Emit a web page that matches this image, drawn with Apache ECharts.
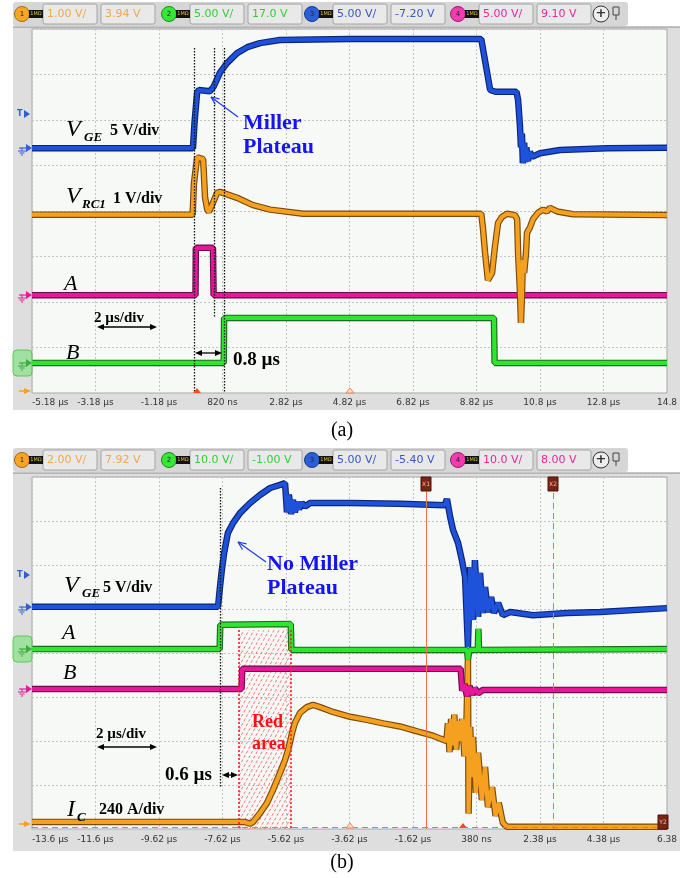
<!DOCTYPE html>
<html>
<head>
<meta charset="utf-8">
<script src="https://cdn.jsdelivr.net/npm/echarts@6/dist/echarts.min.js"></script>
<style>
html, body { margin: 0; padding: 0; background: #fff; }
#chart { width: 684px; height: 878px; }
</style>
</head>
<body>
<div id="chart"></div>
<script>
// ---- tick labels, 2 µs/div, 10 divisions ----
const ticksA = ['-5.18 µs', '-3.18 µs', '-1.18 µs', '820 ns', '2.82 µs', '4.82 µs', '6.82 µs', '8.82 µs', '10.8 µs', '12.8 µs', '14.8']
const ticksB = ['-13.6 µs', '-11.6 µs', '-9.62 µs', '-7.62 µs', '-5.62 µs', '-3.62 µs', '-1.62 µs', '380 ns', '2.38 µs', '4.38 µs', '6.38']

// ---- channel readouts ----
const headA = ['1.00 V/', '3.94 V', '5.00 V/', '17.0 V', '5.00 V/', '-7.20 V', '5.00 V/', '9.10 V']
const headB = ['2.00 V/', '7.92 V', '10.0 V/', '-1.00 V', '5.00 V/', '-5.40 V', '10.0 V/', '8.00 V']

// ---- traces (a): [µs from left edge, divisions from bottom] ----
const vgeA = [[0, 5.38], [5.07, 5.38], [5.12, 5.95], [5.2, 6.6], [5.26, 6.66], [5.6, 6.63], [5.72, 6.73], [5.92, 7.04],
  [6.14, 7.25], [6.46, 7.47], [6.78, 7.6], [7.18, 7.69], [7.81, 7.76], [10, 7.78], [14.15, 7.78], [14.43, 6.66],
  [14.6, 6.62], [15.26, 6.62], [15.31, 6.44], [15.37, 5.85], [15.4, 5.4], [15.43, 5.7], [15.46, 5.05], [15.5, 5.5],
  [15.53, 5.08], [15.57, 5.4], [15.62, 5.1], [15.68, 5.3], [15.75, 5.19], [16.0, 5.27], [16.63, 5.34], [18.1, 5.38], [20, 5.39]]
const vrcA = [[0, 3.92], [5.06, 3.92], [5.1, 4.6], [5.2, 5.18], [5.39, 5.14], [5.45, 4.3], [5.52, 4.03], [5.57, 3.98],
  [5.65, 4.1], [5.83, 4.4], [5.92, 4.42], [6.46, 4.29], [6.96, 4.13], [7.5, 4.03], [8.54, 3.94], [14.15, 3.94],
  [14.2, 3.65], [14.27, 3.08], [14.36, 2.48], [14.49, 2.64], [14.58, 3.21], [14.68, 3.74], [14.8, 3.87], [14.96, 3.94],
  [15.21, 3.91], [15.28, 3.82], [15.31, 3.08], [15.37, 2.2], [15.4, 1.54], [15.43, 2.11], [15.46, 2.92], [15.5, 2.64],
  [15.56, 3.08], [15.59, 3.52], [15.69, 3.65], [15.78, 3.82], [15.94, 3.96], [16.09, 4.03], [16.22, 3.99], [16.31, 4.07],
  [16.54, 3.99], [17.04, 3.93], [20, 3.91]]
const sigA_a = [[0, 2.15], [5.15, 2.15], [5.16, 3.19], [5.7, 3.19], [5.72, 2.15], [20, 2.15]]
const sigB_a = [[0, 0.66], [6.04, 0.66], [6.05, 1.65], [14.55, 1.65], [14.57, 0.66], [20, 0.66]]

// ---- traces (b) ----
const vgeB = [[0, 5.05], [5.86, 5.05], [5.92, 5.5], [5.98, 5.89], [6.05, 6.27], [6.17, 6.73], [6.33, 6.95], [6.55, 7.18],
  [6.87, 7.41], [7.18, 7.59], [7.5, 7.75], [7.81, 7.82], [7.97, 7.86], [8.03, 7.2], [8.09, 7.6], [8.16, 7.16],
  [8.22, 7.48], [8.28, 7.2], [8.35, 7.43], [8.41, 7.27], [8.5, 7.41], [8.6, 7.33], [8.76, 7.41], [10.02, 7.41],
  [11.59, 7.39], [13.0, 7.36], [13.07, 7.5], [13.17, 7.09], [13.26, 6.8], [13.42, 6.5], [13.54, 6.11], [13.64, 5.73],
  [13.73, 4.14], [13.8, 5.95], [13.89, 4.75], [13.95, 6.11], [14.05, 4.82], [14.11, 5.82], [14.2, 4.91], [14.27, 5.5],
  [14.36, 4.93], [14.46, 5.27], [14.55, 4.91], [14.68, 5.14], [14.83, 4.86], [15.06, 4.93], [15.78, 4.86],
  [16.85, 4.91], [17.89, 4.93], [20, 5.02]]
const sigA_b = [[0, 4.09], [5.91, 4.09], [5.93, 4.64], [8.15, 4.66], [8.17, 4.07], [13.7, 4.07], [13.73, 3.85],
  [13.78, 4.07], [14.04, 4.07], [14.06, 4.55], [14.08, 4.07], [20, 4.09]]
const sigB_b = [[0, 3.18], [6.6, 3.18], [6.62, 3.64], [13.5, 3.64], [13.55, 3.14], [13.62, 3.3], [13.7, 3.02],
  [13.78, 3.25], [13.86, 3.05], [13.95, 3.2], [14.05, 3.08], [14.2, 3.16], [20, 3.16]]
const icB = [[0, 0.16], [6.7, 0.16], [6.87, 0.12], [6.96, 0.16], [7.18, 0.36], [7.4, 0.59], [7.59, 0.89], [7.81, 1.27],
  [7.97, 1.57], [8.09, 1.86], [8.19, 2.18], [8.28, 2.41], [8.44, 2.64], [8.66, 2.77], [8.85, 2.82], [9.07, 2.77],
  [9.48, 2.66], [10.02, 2.55], [10.55, 2.48], [11.06, 2.4], [11.59, 2.33], [12.13, 2.22], [12.63, 2.12], [13.05, 2.0],
  [13.1, 2.4], [13.15, 1.75], [13.2, 2.5], [13.26, 1.9], [13.3, 2.6], [13.36, 1.8], [13.42, 2.45], [13.48, 2.0],
  [13.55, 2.5], [13.62, 1.65], [13.68, 2.3], [13.73, 3.84], [13.75, 0.35], [13.8, 2.32], [13.86, 1.18], [13.89, 2.09],
  [13.98, 0.82], [14.05, 1.73], [14.17, 0.66], [14.27, 1.41], [14.36, 0.5], [14.49, 0.95], [14.6, 0.3], [14.7, 0.6],
  [14.83, 0.14], [14.96, 0.05], [20, 0.05]]

// ---- marker positions (µs / div) ----
const dottedA = [[5.10, 0], [5.73, 1.67], [6.05, 0]]   // [time, lower end]
const dottedTopA = 7.58
const dottedB = [5.92, 0.93, 7.75]
const redArea = [6.52, 8.16, 4.52]                       // [from, to, top]
const cursorsB = [12.41, 16.41, 0.05]

const SERIF = '"Liberation Serif", "Times New Roman", serif'
const SANS = '"DejaVu Sans", sans-serif'
const C = {
  blue: '#1f52da', blueEdge: '#0b2476',
  orange: '#f5a11f', orangeEdge: '#7a4a0e',
  pink: '#e6179a', pinkEdge: '#6a0d44',
  green: '#2fe52f', greenEdge: '#1c6e1c'
}

// ---- graphic helpers ----
const G = []
function rect(x, y, w, h, fill, stroke, z, r) {
  G.push({ type: 'rect', z: z ?? -10, silent: true, shape: { x, y, width: w, height: h, r: r || 0 },
    style: { fill, stroke: stroke || null, lineWidth: 1 } })
}
function text(x, y, s, font, fill, align) {
  G.push({ type: 'text', z: 100, silent: true, x, y,
    style: { text: s, font, fill: fill || '#000', align: align || 'left', verticalAlign: 'middle' } })
}
function line(x1, y1, x2, y2, stroke, w, dash, z) {
  G.push({ type: 'line', z: z ?? 100, silent: true, shape: { x1, y1, x2, y2 },
    style: { stroke, lineWidth: w || 1, lineDash: dash || null } })
}
function poly(points, fill, z, stroke) {
  G.push({ type: 'polygon', z: z ?? 100, silent: true, shape: { points },
    style: { fill, stroke: stroke || null, lineWidth: 1 } })
}
function circle(cx, cy, r, fill, stroke, z) {
  G.push({ type: 'circle', z: z ?? 50, silent: true, shape: { cx, cy, r }, style: { fill, stroke, lineWidth: 1 } })
}
function dblArrow(x1, x2, y) {
  line(x1 + 3, y, x2 - 3, y, '#000', 1.3)
  poly([[x1, y], [x1 + 7, y - 3], [x1 + 7, y + 3]], '#000')
  poly([[x2, y], [x2 - 7, y - 3], [x2 - 7, y + 3]], '#000')
}
function openArrow(x1, y1, x2, y2, color) {
  const a = Math.atan2(y2 - y1, x2 - x1), L = 8, W = 3.5
  line(x1, y1, x2, y2, color, 1.2)
  line(x2, y2, x2 - L * Math.cos(a) + W * Math.sin(a), y2 - L * Math.sin(a) - W * Math.cos(a), color, 1.2)
  line(x2, y2, x2 - L * Math.cos(a) - W * Math.sin(a), y2 - L * Math.sin(a) + W * Math.cos(a), color, 1.2)
}
function gnd(y, color) {
  poly([[26, y - 4], [32, y], [26, y + 4]], color, 50)
  line(19, y, 26, y, color, 1.2, null, 50)
  line(22, y, 22, y + 3, color, 1, null, 50)
  line(18, y + 3, 26, y + 3, color, 1, null, 50)
  line(19.5, y + 5, 24.5, y + 5, color, 1, null, 50)
  line(21, y + 7, 23, y + 7, color, 1, null, 50)
}
function trig(y) {
  text(17, y, 'T', 'bold 8px ' + SANS, '#2f5fd0')
  poly([[24, y - 4], [30, y], [24, y + 4]], '#2f5fd0', 50)
}
function header(y0, vals) {
  rect(13, y0 + 2, 615, 24, '#d6d6d6', null, -10, 3)
  line(13, y0 + 27, 680, y0 + 27, '#8a8a8a', 1, null, -9)
  const ch = [
    { cx: 22, fill: '#f5a623', st: '#a86a10', tc: '#f0a848' },
    { cx: 169, fill: '#35e835', st: '#1a8a1a', tc: '#30cf30' },
    { cx: 312, fill: '#2a5fd8', st: '#143a90', tc: '#3858c0' },
    { cx: 458, fill: '#f03cb0', st: '#9a1a70', tc: '#e0289c' }
  ]
  ch.forEach((c, i) => {
    circle(c.cx, y0 + 14, 7.5, c.fill, c.st, 50)
    text(c.cx, y0 + 14, String(i + 1), '7px ' + SANS, '#222', 'center')
    rect(c.cx + 7, y0 + 10, 14, 8, '#111', null, 51)
    text(c.cx + 14, y0 + 14, '1MΩ', '5px ' + SANS, '#e0c840', 'center')
    rect(c.cx + 21, y0 + 4, 54, 20, '#e9e9e9', '#a4a4a4', 50, 2)
    text(c.cx + 25, y0 + 14, vals[2 * i], '11px ' + SANS, c.tc)
    rect(c.cx + 79, y0 + 4, 54, 20, '#e9e9e9', '#a4a4a4', 50, 2)
    text(c.cx + 83, y0 + 14, vals[2 * i + 1], '11px ' + SANS, c.tc)
  })
  circle(601, y0 + 14, 8, '#eeeeee', '#333', 50)
  text(601, y0 + 14, '+', 'bold 13px ' + SANS, '#333', 'center')
  rect(613, y0 + 7, 6, 8, null, '#444', 51)
  line(616, y0 + 15, 616, y0 + 20, '#444', 1, null, 51)
}
function frame(yTop, yPlot, yBot, yFrameBot) {
  rect(13, yTop, 667, yFrameBot - yTop, '#dedede', null, -12)
  rect(32, yPlot, 635, yBot - yPlot, '#f7f9f6', '#a9a9a9', -11)
}

// ---- panel (a) decorations ----
header(0, headA)
frame(27, 29, 393, 410)
trig(114); gnd(148, '#2f5fd0'); gnd(295, '#e6179a')
rect(13, 350, 19, 26, 'rgba(110,225,110,0.55)', '#5ac85a', 40, 4); gnd(363, '#3cae3c')
poly([[24, 388], [31, 391], [24, 394]], '#f5a11f', 50); line(19, 391, 25, 391, '#f5a11f', 1.5, null, 50)
poly([[197, 388], [201, 393], [193, 393]], '#ff4a1a', 60)
poly([[350, 388], [354, 393], [346, 393]], '#fbe0d0', 60, '#f08050')

text(66, 130, 'V', 'italic 24px ' + SERIF)
text(84, 138, 'GE', 'italic bold 13px ' + SERIF)
text(110, 131, '5 V/div', 'bold 16px ' + SERIF)
text(66, 197, 'V', 'italic 24px ' + SERIF)
text(82, 205, 'RC1', 'italic bold 13px ' + SERIF)
text(113, 199, '1 V/div', 'bold 16px ' + SERIF)
text(64, 284, 'A', 'italic 22px ' + SERIF)
text(94, 318, '2 µs/div', 'bold 15px ' + SERIF)
dblArrow(97, 157, 327)
text(66, 353, 'B', 'italic 22px ' + SERIF)
text(233, 360, '0.8 µs', 'bold 19px ' + SERIF)
dblArrow(195, 222, 353)
text(243, 123, 'Miller', 'bold 22px ' + SERIF, '#1414f0')
text(243, 147, 'Plateau', 'bold 22px ' + SERIF, '#1414f0')
openArrow(238, 117, 211, 97, '#1a3cf0')
text(342, 431, '(a)', '20px ' + SERIF, '#000', 'center')

// ---- panel (b) decorations ----
header(446, headB)
frame(473, 477, 829, 851)
trig(575); gnd(607, '#2f5fd0'); gnd(689, '#e6179a')
rect(13, 636, 19, 26, 'rgba(110,225,110,0.55)', '#5ac85a', 40, 4); gnd(649, '#3cae3c')
poly([[24, 821], [31, 824], [24, 827]], '#f5a11f', 50); line(19, 824, 25, 824, '#f5a11f', 1.5, null, 50)
poly([[463, 823], [467, 828], [459, 828]], '#ff4a1a', 60)
poly([[350, 823], [354, 828], [346, 828]], '#fbe0d0', 60, '#f08050')
;[[421, 477, 'X1'], [548, 477, 'X2'], [658, 815, 'Y2']].forEach(m => {
  rect(m[0], m[1], 10, 14, '#7a2416', '#4a1208', 60)
  text(m[0] + 5, m[1] + 7, m[2], '6px ' + SANS, '#f0c0a0', 'center')
})

text(64, 586, 'V', 'italic 24px ' + SERIF)
text(82, 594, 'GE', 'italic bold 13px ' + SERIF)
text(103, 588, '5 V/div', 'bold 16px ' + SERIF)
text(62, 633, 'A', 'italic 22px ' + SERIF)
text(63, 673, 'B', 'italic 22px ' + SERIF)
text(96, 734, '2 µs/div', 'bold 15px ' + SERIF)
dblArrow(97, 157, 747)
text(165, 775, '0.6 µs', 'bold 19px ' + SERIF)
dblArrow(222, 238, 775)
text(67, 810, 'I', 'italic 24px ' + SERIF)
text(77, 818, 'C', 'italic bold 13px ' + SERIF)
text(99, 810, '240 A/div', 'bold 16px ' + SERIF)
text(267, 564, 'No Miller', 'bold 22px ' + SERIF, '#1414f0')
text(267, 588, 'Plateau', 'bold 22px ' + SERIF, '#1414f0')
openArrow(266, 562, 238, 542, '#1a3cf0')
text(252, 722, 'Red', 'bold 18px ' + SERIF, '#ff1010')
text(252, 744, 'area', 'bold 18px ' + SERIF, '#ff1010')
text(342, 863, '(b)', '20px ' + SERIF, '#000', 'center')

// ---- axes ----
const gridLine = { show: true, lineStyle: { color: '#c2c6c2', width: 1, type: [2, 2] } }
function xAxisFor(g, labels, margin) {
  return {
    type: 'value', gridIndex: g, min: 0, max: 20, interval: 2,
    axisLine: { show: false }, axisTick: { show: false }, splitLine: gridLine,
    axisLabel: { margin, fontSize: 9, fontFamily: SANS, color: '#333',
      formatter: v => labels[Math.round(v / 2)], alignMinLabel: 'left', showMinLabel: true, showMaxLabel: true }
  }
}
function yAxisFor(g) {
  return { type: 'value', gridIndex: g, min: 0, max: 8, interval: 1,
    axisLine: { show: false }, axisTick: { show: false }, axisLabel: { show: false }, splitLine: gridLine }
}

// ---- series ----
function trace(data, color, edge, g, extra) {
  const base = { type: 'line', xAxisIndex: g, yAxisIndex: g, data, showSymbol: false, symbol: 'none',
    animation: false, silent: true }
  return [
    Object.assign({}, base, { lineStyle: { color: edge, width: 6.5 } }),
    Object.assign({}, base, { lineStyle: { color, width: 4.2 } }, extra || {})
  ]
}
const dotted = { color: '#111', width: 1.3, type: [1.5, 1.5] }

// hatched "Red area", drawn through the grid's own scale
function renderHatch(params, api) {
  const p0 = api.coord([api.value(0), 0])
  const p1 = api.coord([api.value(1), api.value(2)])
  const xa = p0[0], xb = p1[0], ya = p1[1], yb = p0[1]
  const h = yb - ya, slope = 0.55
  const children = []
  for (let k = xa - h * slope; k < xb; k += 5) {
    const y1 = Math.min(yb, yb - (xa - k) / slope)
    const y2 = Math.max(ya, yb - (xb - k) / slope)
    if (y1 <= y2) continue
    children.push({ type: 'line', silent: true,
      shape: { x1: k + (yb - y1) * slope, y1, x2: k + (yb - y2) * slope, y2 },
      style: { stroke: 'rgba(255,40,40,0.8)', lineWidth: 0.8, lineDash: [3, 2] } })
  }
  return { type: 'group', children }
}

const series = [
  ...trace(sigB_a, C.green, C.greenEdge, 0),
  ...trace(sigA_a, C.pink, C.pinkEdge, 0, {
    markLine: { silent: true, animation: false, symbol: ['none', 'none'], label: { show: false }, lineStyle: dotted,
      data: dottedA.map(d => [{ coord: [d[0], dottedTopA] }, { coord: [d[0], d[1]] }]) }
  }),
  ...trace(vrcA, C.orange, C.orangeEdge, 0),
  ...trace(vgeA, C.blue, C.blueEdge, 0),

  {
    type: 'custom', xAxisIndex: 1, yAxisIndex: 1, silent: true, animation: false, z: 1,
    encode: { x: [0, 1], y: 2 },
    data: [redArea],
    renderItem: renderHatch
  },
  ...trace(icB, C.orange, C.orangeEdge, 1, {
    markLine: { silent: true, animation: false, symbol: ['none', 'none'], label: { show: false },
      lineStyle: { color: '#ff1a1a', width: 1.6, type: [2, 2] },
      data: [
        [{ coord: [redArea[0], redArea[2]] }, { coord: [redArea[0], 0] }],
        [{ coord: [redArea[1], redArea[2]] }, { coord: [redArea[1], 0] }]
      ] }
  }),
  ...trace(sigB_b, C.pink, C.pinkEdge, 1),
  ...trace(sigA_b, C.green, C.greenEdge, 1, {
    markLine: { silent: true, animation: false, symbol: ['none', 'none'], label: { show: false }, lineStyle: dotted,
      data: [[{ coord: [dottedB[0], dottedB[2]] }, { coord: [dottedB[0], dottedB[1]] }]] }
  }),
  ...trace(vgeB, C.blue, C.blueEdge, 1, {
    markLine: { silent: true, animation: false, symbol: ['none', 'none'], label: { show: false },
      lineStyle: { color: '#e8764a', width: 1 },
      data: [
        { xAxis: cursorsB[0], lineStyle: { type: 'solid' } },
        { xAxis: cursorsB[1], lineStyle: { type: [6, 4] } },
        { yAxis: cursorsB[2], lineStyle: { type: [6, 4] } }
      ] }
  })
]

const chart = echarts.init(document.getElementById('chart'))
chart.setOption({
  backgroundColor: '#fff',
  animation: false,
  grid: [
    { left: 32, top: 29, width: 635, height: 364 },
    { left: 32, top: 477, width: 635, height: 352 }
  ],
  xAxis: [xAxisFor(0, ticksA, 5), xAxisFor(1, ticksB, 6)],
  yAxis: [yAxisFor(0), yAxisFor(1)],
  series,
  graphic: G
})
</script>
</body>
</html>
